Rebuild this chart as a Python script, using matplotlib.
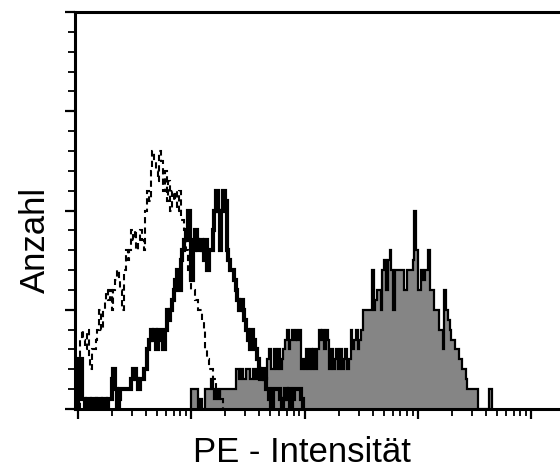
import numpy as np
import matplotlib.pyplot as plt
from matplotlib.ticker import LogLocator, MultipleLocator, NullFormatter

# 64 channels per decade on the log intensity axis
CH_PER_DECADE = 64

# isotype control (dashed), counts per channel starting at channel 1
dashed_start = 1
dashed_counts = [7, 8, 7, 6, 8, 5, 4, 6, 6, 7, 8, 10, 8, 10, 11, 12, 11, 12, 10, 12,
                 13, 14, 13, 12, 10, 14, 16, 15, 16, 18, 17, 18, 16, 17, 18, 17, 16, 20, 22, 21,
                 24, 26, 25, 24, 23, 26, 25, 22, 24, 21, 23, 20, 22, 21, 22, 20, 22, 19, 19, 18,
                 16, 14, 13, 12, 12, 11, 11, 10, 10, 9, 8, 6, 5, 4, 4, 3, 3, 2, 2, 1, 1]

# weak staining (thick black line), starting at channel 0
solid_start = 0
solid_counts = [5, 5, 1, 1, 0, 1, 1, 0, 1, 1, 0, 1, 1, 0, 1, 1, 0, 1, 1, 3,
                4, 2, 0, 1, 2, 2, 2, 2, 2, 2, 3, 4, 4, 3, 2, 3, 3, 4, 4, 6,
                7, 8, 7, 8, 6, 8, 8, 7, 6, 8, 10, 9, 10, 11, 12, 13, 14, 12, 15, 16,
                17, 18, 20, 17, 13, 16, 18, 17, 16, 17, 16, 15, 17, 14, 16, 16, 18, 20, 22, 20,
                16, 20, 22, 21, 16, 15, 14, 14, 13, 12, 11, 10, 11, 10, 9, 8, 7, 6, 8, 7,
                6, 5, 4, 3, 4, 3, 2, 2, 1, 0, 2, 2, 2, 2, 1, 0, 1, 2, 1, 2,
                0, 1, 2, 2, 2, 2, 1, 0]

# strong staining (grey filled), starting at channel 64
gray_start = 64
gray_counts = [2, 2, 2, 2, 0, 1, 0, 0, 2, 2, 2, 3, 2, 1, 2, 1, 2, 2, 2, 2,
               2, 2, 2, 2, 2, 4, 4, 3, 4, 3, 3, 4, 4, 3, 3, 4, 3, 4, 3, 3,
               4, 3, 3, 5, 6, 4, 4, 6, 4, 6, 4, 5, 6, 7, 8, 6, 7, 8, 7, 8,
               7, 8, 4, 5, 4, 6, 4, 6, 4, 6, 4, 6, 8, 7, 8, 6, 8, 7, 4, 6,
               4, 5, 6, 4, 6, 4, 5, 6, 4, 5, 8, 6, 7, 8, 6, 7, 8, 10, 10, 10,
               10, 10, 14, 10, 11, 12, 12, 10, 14, 15, 12, 15, 16, 14, 10, 14, 14, 14, 14, 14,
               12, 12, 14, 14, 14, 15, 20, 16, 12, 12, 14, 13, 14, 14, 16, 12, 12, 10, 10, 10,
               8, 8, 6, 12, 10, 9, 8, 7, 7, 6, 6, 5, 5, 4, 4, 3, 2, 2, 2, 2,
               2, 2, 0, 0, 0, 0, 0, 0, 2, 2]


def channel_edges(start, n):
    ch = np.arange(start, start + n + 1)
    return 10.0 ** (ch / CH_PER_DECADE)


plt.rcParams['font.family'] = ['Liberation Sans', 'DejaVu Sans']

fig = plt.figure(figsize=(5.6, 4.72), dpi=100)
ax = fig.add_axes([75 / 560, 63 / 472, 485 / 560, 397 / 472])

ax.stairs(gray_counts, channel_edges(gray_start, len(gray_counts)), fill=True,
          facecolor='#858585', edgecolor='black', linewidth=1.6, zorder=2)
ax.stairs(solid_counts, channel_edges(solid_start, len(solid_counts)),
          color='black', linewidth=3.0, zorder=3)
ax.stairs(dashed_counts, channel_edges(dashed_start, len(dashed_counts)),
          color='black', linewidth=1.5, linestyle=(0, (3, 2)), zorder=4)

ax.set_xscale('log')
ax.set_xlim(10 ** (-1.7 / CH_PER_DECADE), 10 ** (272.3 / CH_PER_DECADE))
ax.set_ylim(0, 40)

ax.xaxis.set_major_locator(LogLocator(base=10, numticks=10))
ax.xaxis.set_minor_locator(LogLocator(base=10, subs=np.arange(2, 10), numticks=20))
ax.xaxis.set_major_formatter(NullFormatter())
ax.xaxis.set_minor_formatter(NullFormatter())
ax.yaxis.set_major_locator(MultipleLocator(10))
ax.yaxis.set_minor_locator(MultipleLocator(2))
ax.yaxis.set_major_formatter(NullFormatter())

ax.tick_params(which='major', direction='out', length=7, width=1.6)
ax.tick_params(which='minor', direction='out', length=5, width=1.3)
ax.tick_params(top=False, right=False)

ax.spines['right'].set_visible(False)
for side in ['left', 'top', 'bottom']:
    ax.spines[side].set_linewidth(2.2)

fig.text(302 / 560, 1 - 452 / 472, 'PE - Intensität', fontsize=25,
         ha='center', va='center')
fig.text(35 / 560, 1 - 240 / 472, 'Anzahl', fontsize=25, rotation=90,
         ha='center', va='center')

fig.savefig('out.png', dpi=100)
